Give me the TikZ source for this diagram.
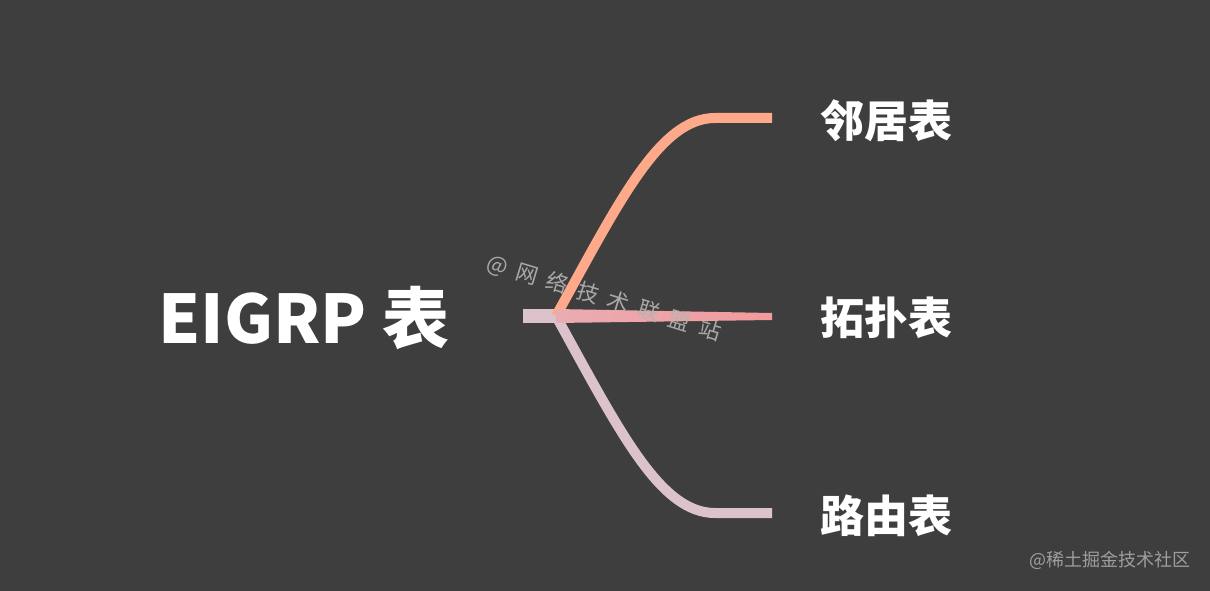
\documentclass[tikz,border=0pt]{standalone}
\usepackage{fontspec}
\setmainfont{Noto Sans CJK SC}
\usepackage{xcolor}
\usepackage{tikz}
\usetikzlibrary{positioning}

\definecolor{bgcol}{HTML}{3E3E3E}
\definecolor{topcol}{HTML}{FFA98B}
\definecolor{midcol}{HTML}{F39A9D}
\definecolor{botcol}{HTML}{DCC3CB}
\definecolor{markcol}{HTML}{B4B4B4}
\definecolor{creditcol}{HTML}{9E9E9E}

\newcommand{\wsp}{\hspace{0.45em}}

\begin{document}
\begin{tikzpicture}[x=1pt, y=-1pt]
			\tikzset{
				root/.style={text=white, font=\fontsize{67}{67}\selectfont\bfseries},
				leaf/.style={text=white, font=\fontsize{44}{44}\selectfont\bfseries},
				branch/.style={line width=10pt},
				wmark/.style={text=markcol, opacity=0.9, font=\fontsize{22}{22}\selectfont},
				credit/.style={text=creditcol, font=\fontsize{18}{18}\selectfont}
			}
			\fill[bgcol] (0,0) rectangle (1210,591);
			\useasboundingbox (0,0) rectangle (1210,591);
			
			\node[root] (eigrp) at (304,318) {EIGRP 表};
			\node[leaf] (nbr) at (886,121) {邻居表};
			\node[leaf] (topo) at (886,318) {拓扑表};
			\node[leaf] (route) at (886,516) {路由表};
			
			\coordinate (stub) at (523,316);
			\coordinate (j) at (556,316);
			\coordinate (e1) at (772,118);
			\coordinate (e2) at (772,316.5);
			\coordinate (e3) at (772,513);
			
			% Draw branches
			\draw[botcol, line width=14pt] (stub) -- (j);
			\draw[branch, botcol] (j) .. controls (620,432) and (660,513) .. (715,513) -- (e3);
			\draw[branch, topcol] (j) .. controls (620,200) and (660,118) .. (715,118) -- (e1);
			\shade[left color=midcol!55!botcol, right color=midcol] ([yshift=-7pt]j) -- ([yshift=-3.5pt]e2) -- ([yshift=3.5pt]e2) -- ([yshift=7pt]j) -- cycle;
			
			% Watermarks
			\node[wmark, rotate=-17] (wm) at (604,298) {@\wsp 网\wsp 络\wsp 技\wsp 术\wsp 联\wsp 盟\wsp 站};
			\node[credit] (credit) at (1110,560) {@稀土掘金技术社区};
		\end{tikzpicture}
\end{document}
